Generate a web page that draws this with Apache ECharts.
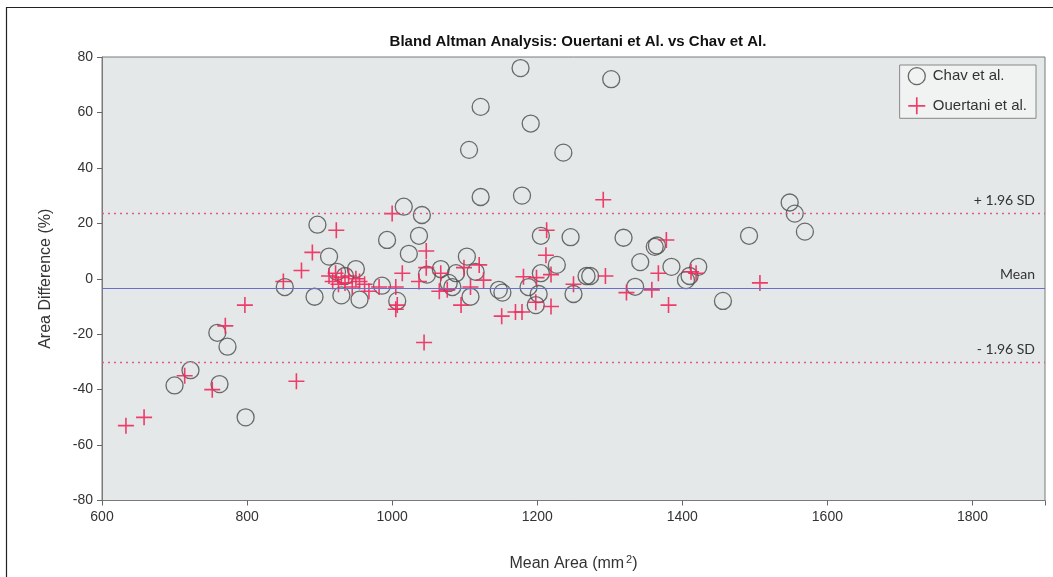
<!DOCTYPE html>
<html><head><meta charset="utf-8">
<script src="https://cdn.jsdelivr.net/npm/echarts@6/dist/echarts.min.js"></script>
<style>html,body{margin:0;padding:0;background:#fff}#c{width:1053px;height:577px}</style>
</head><body><div id="c"></div>
<script>
const chartTitle = 'Bland Altman Analysis: Ouertani et Al. vs Chav et Al.';
const xTicks = [600, 800, 1000, 1200, 1400, 1600, 1800];
const yTicks = [-80, -60, -40, -20, 0, 20, 40, 60, 80];
const seriesNames = ['Chav et al.', 'Ouertani et al.'];
const limitLabels = ['+ 1.96 SD', 'Mean', '- 1.96 SD'];
const meanDiff = -3.3;
const upperLimit = 23.6;
const lowerLimit = -30.2;
// [mean area, area difference %]
const chavPoints = [
  [700,-38.5],[722,-33],[759,-19.5],[762,-38],[773,-24.5],[798,-50],
  [852,-3],[893,-6.5],[897,19.5],[913,8],[924,2.5],[930,-6],[935,1],[950,3.5],[955,-7.5],
  [986,-2.5],[993,14],[1007,-8],[1016,26],[1023,9],[1037,15.5],[1041,23],[1048,1.5],
  [1067,3.5],[1078,-1.5],[1083,-3],[1088,2],[1103,8],[1106,46.5],[1108,-6.5],[1115,2.5],
  [1122,62],[1122,29.5],[1147,-4],[1152,-5],[1177,76],[1179,30],[1188,-3],[1191,56],
  [1198,-9.5],[1202,-5.5],[1205,15.5],[1205,2],[1227,5],[1236,45.5],[1246,15],[1250,-5.5],
  [1268,1],[1273,1],[1302,72],[1319,14.8],[1335,-2.9],[1342,6],[1362,11.5],[1365,12],
  [1385,4.3],[1405,-0.5],[1410,1],[1422,4.3],[1456,-8],[1492,15.5],[1548,27.5],[1555,23.5],[1569,17]
];
const ouertaniPoints = [
  [633,-53],[658,-50],[714,-35],[752,-40],[770,-17],[797,-9.5],[850,-1],[868,-37],[875,3],
  [890,9.5],[923,17.5],[913,1],[918,-1],[922,2],[926,-2],[930,0.5],[935,-1.5],[940,1],
  [945,-3],[950,0],[955,-1],[962,-2],[968,-4.5],[982,-3],[1000,23.5],[1005,-3],[1007,-9.5],
  [1005,-11],[1014,2],[1037,-1],[1044,-23],[1047,10],[1047,4],[1067,2],[1065,-4.5],[1076,-4],
  [1095,-9.5],[1099,4],[1108,-3],[1120,5],[1126,-0.5],[1151,-13.5],[1170,-12],[1179,-12],
  [1181,0.7],[1198,-8.5],[1199,0.4],[1212,8.5],[1213,17.5],[1219,1.5],[1219,-10],[1250,-2],
  [1291,28.5],[1294,1],[1323,-5],[1358,-4],[1367,2],[1378,14],[1381,-9.5],[1412,2.5],
  [1419,2],[1507,-1.5]
];

const plusPath = 'path://M-1,-10H1V10H-1Z M-10,-1H10V1H-10Z';
const chart = echarts.init(document.getElementById('c'), null, {renderer:'canvas'});
const axisFont = {fontFamily:'Liberation Sans, Arial, sans-serif', fontSize:14, color:'#333'};
chart.setOption({
  animation:false,
  backgroundColor:'#fff',
  graphic:[{type:'rect', shape:{x:6.5, y:7.5, width:1100, height:620}, style:{fill:'none', stroke:'#222', lineWidth:1.2}, z:-1}],
  title:{text:chartTitle, left:573, top:29, textAlign:'center',
    textStyle:{fontFamily:'Liberation Sans, Arial, sans-serif', fontSize:15, fontWeight:'bold', color:'#111'}},
  legend:{orient:'vertical', right:17, top:65, padding:[2,9,4,8], itemGap:12, itemWidth:18, itemHeight:17,
    backgroundColor:'#f1f3f3', borderColor:'#888', borderWidth:1,
    textStyle:{fontFamily:'Liberation Sans, Arial, sans-serif', fontSize:15, color:'#333', padding:[0,0,0,2]},
    data:[{name:seriesNames[0], icon:'circle', itemStyle:{color:'transparent', borderColor:'#444', borderWidth:1.3}},
          {name:seriesNames[1], icon:plusPath, itemStyle:{color:'#ee2a5c', borderWidth:0}}]},
  grid:{left:102, right:8, top:57, bottom:76, show:true, backgroundColor:'#e4e8e8', borderColor:'#7a7a7a', borderWidth:1},
  xAxis:{type:'value', min:600, max:1900, interval:200,
    name:'{a|Mean Area (mm}{s|2}{a|)}', nameLocation:'middle', nameGap:54,
    nameTextStyle:{rich:{a:{fontFamily:'Liberation Sans, Arial, sans-serif', fontSize:16, color:'#333'},
      s:{fontFamily:'Liberation Sans, Arial, sans-serif', fontSize:11, color:'#333', verticalAlign:'top', padding:[0,0,8,2]}}},
    axisLine:{show:true, onZero:false, lineStyle:{color:'#7a7a7a'}},
    axisTick:{show:true, length:5, lineStyle:{color:'#666'}},
    axisLabel:Object.assign({margin:10, formatter:v=>xTicks.includes(v)?String(v):''}, axisFont),
    splitLine:{show:false}},
  yAxis:{type:'value', min:-80, max:80, interval:20,
    name:'Area Difference (%)', nameLocation:'middle', nameGap:48,
    nameTextStyle:{fontFamily:'Liberation Sans, Arial, sans-serif', fontSize:16, color:'#333'},
    axisLine:{show:true, onZero:false, lineStyle:{color:'#7a7a7a'}},
    axisTick:{show:true, length:5, lineStyle:{color:'#666'}},
    axisLabel:Object.assign({margin:9, formatter:v=>yTicks.includes(v)?String(v):''}, axisFont),
    splitLine:{show:false}},
  series:[
    {name:seriesNames[0], type:'scatter', data:chavPoints, symbol:'circle', symbolSize:17, z:3,
      itemStyle:{color:'transparent', borderColor:'#4a4a4a', borderWidth:1.3},
      markLine:{silent:true, symbol:'none', animation:false,
        label:{position:'insideEndTop', color:'#333', fontFamily:'Lato, Open Sans, sans-serif', fontSize:14, distance:[10,6]},
        data:[
          {yAxis:upperLimit, lineStyle:{color:'#e25a80', type:[2,4], width:1.4}, label:{formatter:limitLabels[0]}},
          {yAxis:meanDiff, lineStyle:{color:'#6a70c8', type:'solid', width:1.2}, label:{formatter:limitLabels[1]}},
          {yAxis:lowerLimit, lineStyle:{color:'#e25a80', type:[2,4], width:1.4}, label:{formatter:limitLabels[2]}}
        ]}},
    {name:seriesNames[1], type:'scatter', data:ouertaniPoints, symbol:plusPath, symbolSize:16, z:4,
      itemStyle:{color:'#ee2a5c', opacity:0.9}}
  ]
});
</script></body></html>
